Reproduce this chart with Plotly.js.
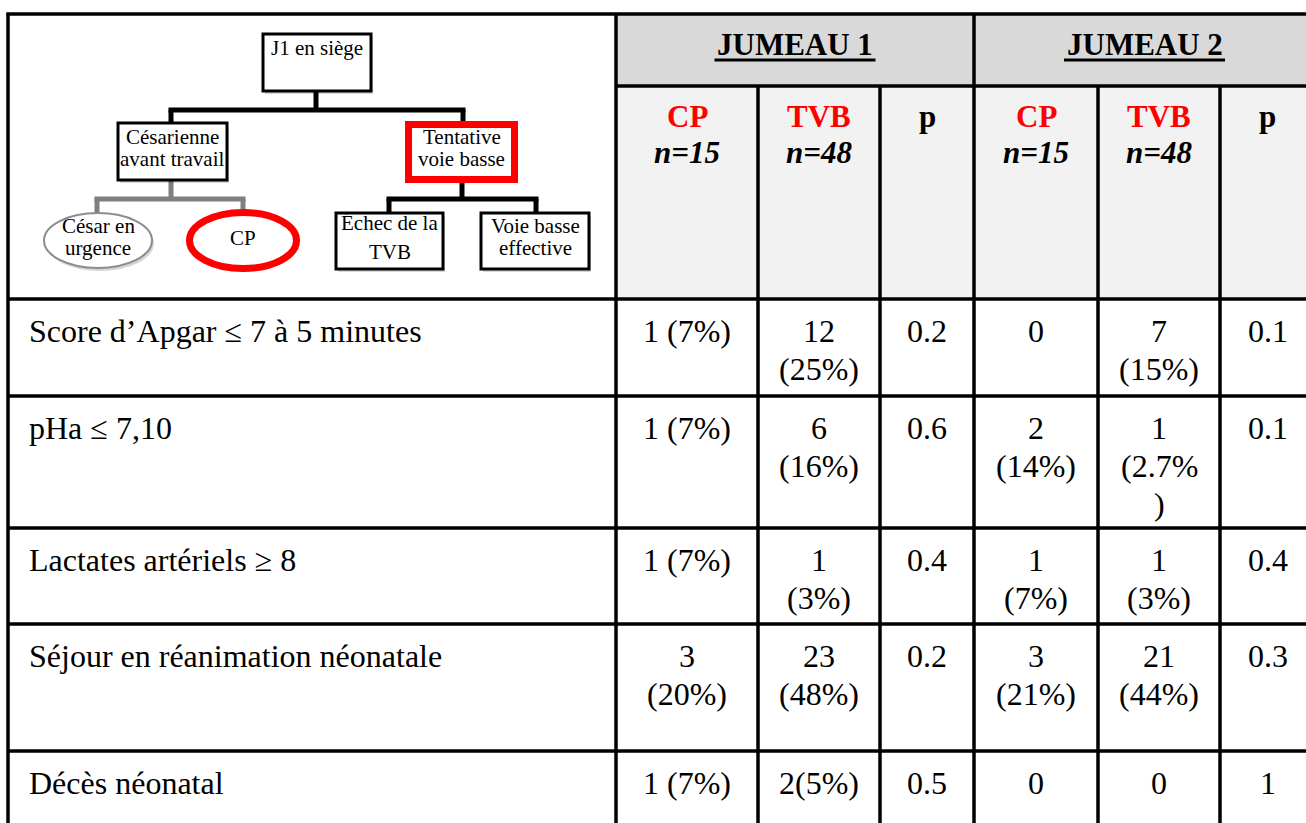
<!DOCTYPE html>
<html><head><meta charset="utf-8">
<script src="https://cdn.plot.ly/plotly-3.0.1.min.js"></script>
<style>html,body{margin:0;padding:0;background:#fff;}#chart{width:1306px;height:823px;}</style>
</head><body><div id="chart"></div>
<script>
// ---------- data ----------
const groupTitles = ["JUMEAU 1", "JUMEAU 2"];
const armNames = ["CP", "TVB"];
const armSizes = ["n=15", "n=48"];
const pHeader = "p";
const rowLabels = [
  "Score d\u2019Apgar \u2264 7 à 5 minutes",
  "pHa \u2264 7,10",
  "Lactates artériels \u2265 8",
  "Séjour en réanimation néonatale",
  "Décès néonatal"
];
const j1CP  = ["1 (7%)", "1 (7%)", "1 (7%)", "3\n(20%)", "1 (7%)"];
const j1TVB = ["12\n(25%)", "6\n(16%)", "1\n(3%)", "23\n(48%)", "2(5%)"];
const j1P   = ["0.2", "0.6", "0.4", "0.2", "0.5"];
const j2CP  = ["0", "2\n(14%)", "1\n(7%)", "3\n(21%)", "0"];
const j2TVB = ["7\n(15%)", "1\n(2.7%\n)", "1\n(3%)", "21\n(44%)", "0"];
const j2P   = ["0.1", "0.1", "0.4", "0.3", "1"];
// flow diagram labels
const treeLabels = ["J1 en siège", "Césarienne\navant travail", "Tentative\nvoie basse",
                    "César en\nurgence", "CP", "Échec de la\nTVB", "Voie basse\neffective"];

// ---------- layout constants ----------
const W = 1306, H = 823;
const FONT = "\"Liberation Serif\", \"Times New Roman\", serif";
const colX = [8, 616, 758, 880, 974, 1098, 1220, 1315];
const rowY = [14, 86, 299, 396, 528, 624, 751, 900];
const GRID = 3.5;
const RED = "#ff0000";

const shapes = [];
const annotations = [];

function ann(x, y, text, o) {
  o = o || {};
  annotations.push({
    x: x, y: y, xref: "x", yref: "y", text: text, showarrow: false,
    xanchor: o.xa || "center", yanchor: "middle",
    font: {family: FONT, size: o.size || 32, color: o.color || "#000",
           weight: o.weight || "normal", style: o.style || "normal"}
  });
}
function line(x0, y0, x1, y1, color, width) {
  shapes.push({type: "line", xref: "x", yref: "y", x0: x0, y0: y0, x1: x1, y1: y1,
               line: {color: color, width: width}});
}
function box(type, x0, y0, x1, y1, color, width) {
  shapes.push({type: type, xref: "x", yref: "y", x0: x0 + 2, y0: y0 + 3, x1: x1 + 2, y1: y1 + 3,
               fillcolor: "rgba(0,0,0,0.16)", line: {width: 0}});
  shapes.push({type: type, xref: "x", yref: "y", x0: x0, y0: y0, x1: x1, y1: y1,
               fillcolor: "#ffffff", line: {color: color, width: width}});
}

// ---------- header fills ----------
shapes.push({type: "rect", xref: "x", yref: "y", x0: colX[1], x1: colX[7], y0: rowY[0], y1: rowY[1],
             fillcolor: "#d9d9d9", line: {width: 0}});
shapes.push({type: "rect", xref: "x", yref: "y", x0: colX[1], x1: colX[7], y0: rowY[1], y1: rowY[2],
             fillcolor: "#f2f2f2", line: {width: 0}});

// ---------- flow diagram ----------
const BLK = "#000", GRY = "#7f7f7f";
// connectors
line(316, 91, 316, 110, BLK, 5);
line(168.5, 110, 465.5, 110, BLK, 5);
line(171, 110, 171, 124, BLK, 5);
line(463, 110, 463, 122, BLK, 5);
line(171, 180, 171, 199, GRY, 5);
line(94.5, 199, 245.5, 199, GRY, 5);
line(97, 199, 97, 213, GRY, 5);
line(243, 199, 243, 211, GRY, 5);
line(462, 183, 462, 199, BLK, 5);
line(386.5, 199, 538.5, 199, BLK, 5);
line(389, 199, 389, 213, BLK, 5);
line(536, 199, 536, 213, BLK, 5);
// nodes
const nodeGeom = [
  ["rect", 263, 34, 371, 91, BLK, 3, 21, [48]],
  ["rect", 118, 123, 227, 180, BLK, 3, 21, [137, 159]],
  ["rect", 408.5, 124.5, 514.5, 179.5, RED, 7, 21, [137, 159]],
  ["circle", 44, 213, 152, 268, "#8c8c8c", 2, 21, [226, 248]],
  ["circle", 189.5, 212.5, 296.5, 268.5, RED, 7, 21, [238]],
  ["rect", 336, 213, 443, 269, BLK, 3, 21, [223, 252]],
  ["rect", 481, 213, 589, 269, BLK, 3, 21, [226, 248]]
];
nodeGeom.forEach(function (g, i) {
  box(g[0], g[1], g[2], g[3], g[4], g[5], g[6]);
  const cx = (g[1] + g[3]) / 2;
  treeLabels[i].split("\n").forEach(function (t, k) {
    ann(cx, g[8][k], t, {size: g[7]});
  });
});

// ---------- headers ----------
groupTitles.forEach(function (t, gi) {
  const cx = (colX[1 + gi * 3] + colX[4 + gi * 3]) / 2;
  ann(cx, 44.5, t, {size: 31, weight: "bold"});
  line(cx - 80.5, 60, cx + 80.5, 60, BLK, 3);
  armNames.forEach(function (a, ai) {
    const c = 1 + gi * 3 + ai;
    const x = (colX[c] + colX[c + 1]) / 2;
    ann(x, 116.5, a, {size: 31, weight: "bold", color: RED});
    ann(x, 152.5, armSizes[ai], {size: 31, weight: "bold", style: "italic"});
  });
  const pc = 3 + gi * 3;
  ann((colX[pc] + colX[pc + 1]) / 2, 116.5, pHeader, {size: 31, weight: "bold"});
});

// ---------- body ----------
const cols = [j1CP, j1TVB, j1P, j2CP, j2TVB, j2P];
rowLabels.forEach(function (lab, r) {
  const top = rowY[r + 2];
  ann(27, top + 32, lab, {xa: "left"});
  cols.forEach(function (col, c) {
    const x = (colX[c + 1] + colX[c + 2]) / 2;
    col[r].split("\n").forEach(function (t, k) {
      ann(x, top + 32 + k * 38, t);
    });
  });
});

// ---------- grid ----------
line(colX[0] - 1.75, rowY[0], colX[7], rowY[0], BLK, GRID);
line(colX[1], rowY[1], colX[7], rowY[1], BLK, GRID);
for (let i = 2; i <= 6; i++) line(colX[0], rowY[i], colX[7], rowY[i], BLK, GRID);
[0, 1, 4].forEach(function (i) { line(colX[i], rowY[0], colX[i], H + 5, BLK, GRID); });
[2, 3, 5, 6].forEach(function (i) { line(colX[i], rowY[1], colX[i], H + 5, BLK, GRID); });

Plotly.newPlot("chart", [], {
  width: W, height: H, autosize: false,
  margin: {l: 0, r: 0, t: 0, b: 0, pad: 0},
  paper_bgcolor: "#ffffff", plot_bgcolor: "#ffffff",
  showlegend: false,
  xaxis: {range: [0, W], visible: false, fixedrange: true},
  yaxis: {range: [H, 0], visible: false, fixedrange: true},
  shapes: shapes, annotations: annotations
}, {staticPlot: true, displayModeBar: false});
</script></body></html>
